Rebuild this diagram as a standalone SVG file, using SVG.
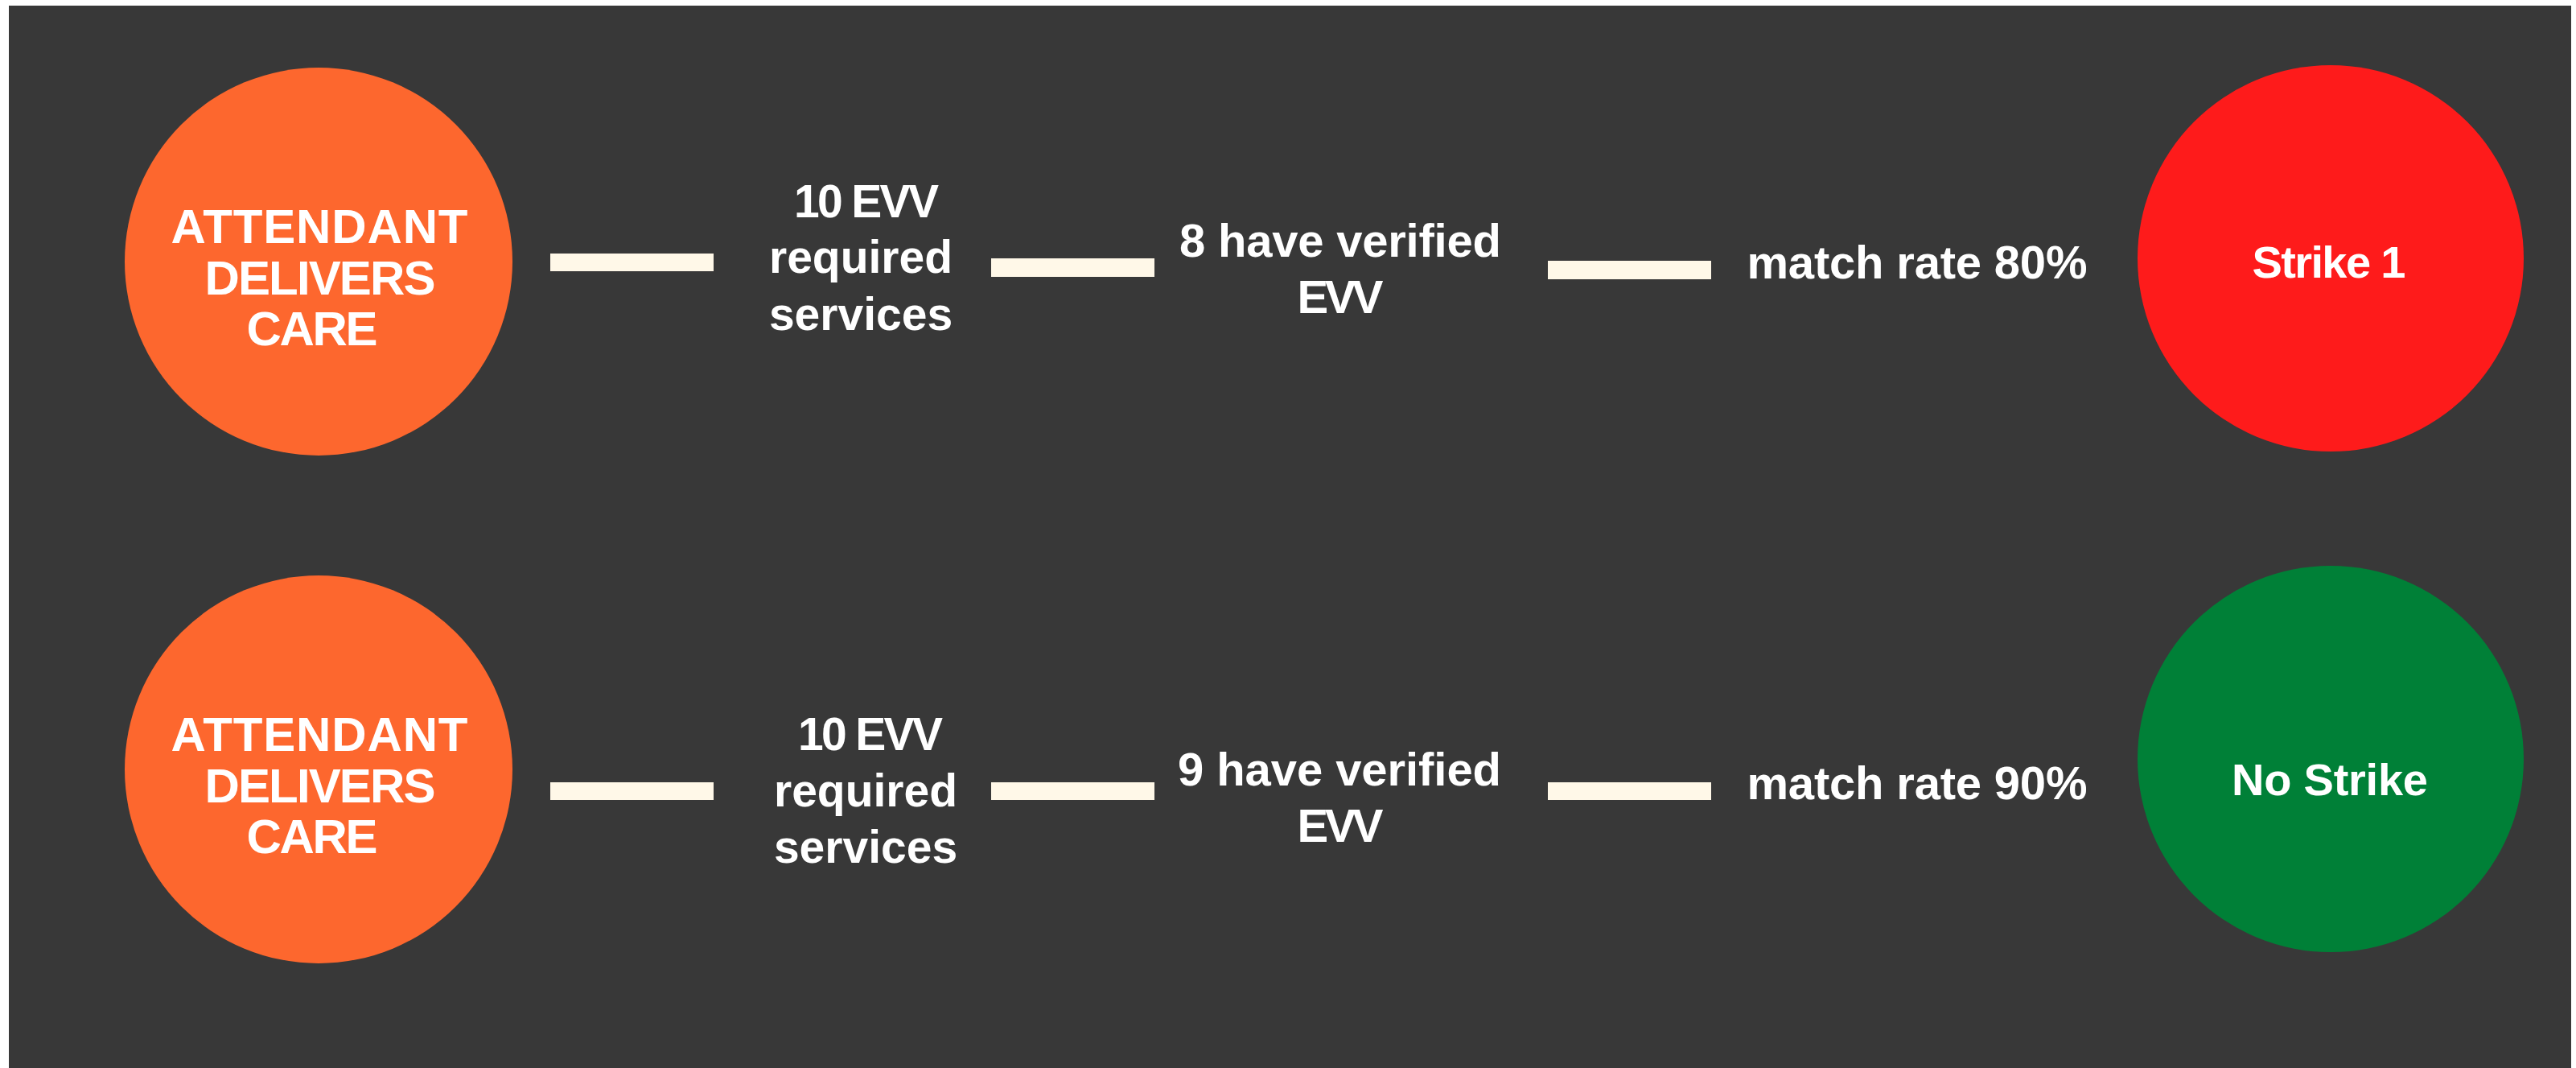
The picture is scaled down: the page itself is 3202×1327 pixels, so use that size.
<svg xmlns="http://www.w3.org/2000/svg" width="3202" height="1327" viewBox="0 0 3202 1327">
  <style>
    .bg { fill: #383838; }
    .start { fill: #FD672E; }
    .bar { fill: #FFF8E8; }
    .t { font-family: "Liberation Sans", Arial, sans-serif; font-weight: bold; fill: #FFFFFF; text-anchor: middle; }
    .big { font-size: 60px; }
    .mid { font-size: 57px; }
    .lbl { font-size: 58px; }
    .res { font-size: 56px; }
  </style>
  <rect x="0" y="0" width="3202" height="1327" fill="#FFFFFF"/>
  <rect class="bg" x="11" y="7" width="3185" height="1320"/>

  <g id="connectors">
    <rect class="bar" x="684" y="315" width="203" height="22"/>
    <rect class="bar" x="1232" y="321" width="203" height="23"/>
    <rect class="bar" x="1924" y="324" width="203" height="23"/>
    <rect class="bar" x="684" y="972" width="203" height="22"/>
    <rect class="bar" x="1232" y="972" width="203" height="22"/>
    <rect class="bar" x="1924" y="972" width="203" height="22"/>
  </g>

  <g id="start1">
    <circle class="start" cx="396" cy="325" r="241"/>
    <text class="t big" x="397" y="302" textLength="369">ATTENDANT</text>
    <text class="t big" x="398" y="366" textLength="287">DELIVERS</text>
    <text class="t big" x="388" y="429" textLength="163">CARE</text>
  </g>

  <g id="services1">
    <text class="t mid" x="1077" y="270" textLength="180">10 EVV</text>
    <text class="t mid" x="1070" y="339">required</text>
    <text class="t mid" x="1070" y="410">services</text>
  </g>

  <g id="verified1">
    <text class="t lbl" x="1666" y="319" textLength="400">8 have verified</text>
    <text class="t lbl" x="1666" y="389" textLength="107">EVV</text>
  </g>

  <g id="rate1">
    <text class="t lbl" x="2383" y="346" textLength="423">match rate 80%</text>
  </g>

  <g id="result1">
    <circle cx="2897" cy="321" r="240" fill="#FE1B1B"/>
    <text class="t res" x="2895" y="345" textLength="191">Strike 1</text>
  </g>

  <g id="start2">
    <circle class="start" cx="396" cy="956" r="241"/>
    <text class="t big" x="397" y="933" textLength="369">ATTENDANT</text>
    <text class="t big" x="398" y="997" textLength="287">DELIVERS</text>
    <text class="t big" x="388" y="1060" textLength="163">CARE</text>
  </g>

  <g id="services2">
    <text class="t mid" x="1082" y="932" textLength="180">10 EVV</text>
    <text class="t mid" x="1076" y="1002">required</text>
    <text class="t mid" x="1076" y="1072">services</text>
  </g>

  <g id="verified2">
    <text class="t lbl" x="1665" y="976" textLength="402">9 have verified</text>
    <text class="t lbl" x="1666" y="1046" textLength="107">EVV</text>
  </g>

  <g id="rate2">
    <text class="t lbl" x="2383" y="993" textLength="423">match rate 90%</text>
  </g>

  <g id="result2">
    <circle cx="2897" cy="943" r="240" fill="#008037"/>
    <text class="t res" x="2896" y="988" textLength="244">No Strike</text>
  </g>
</svg>
